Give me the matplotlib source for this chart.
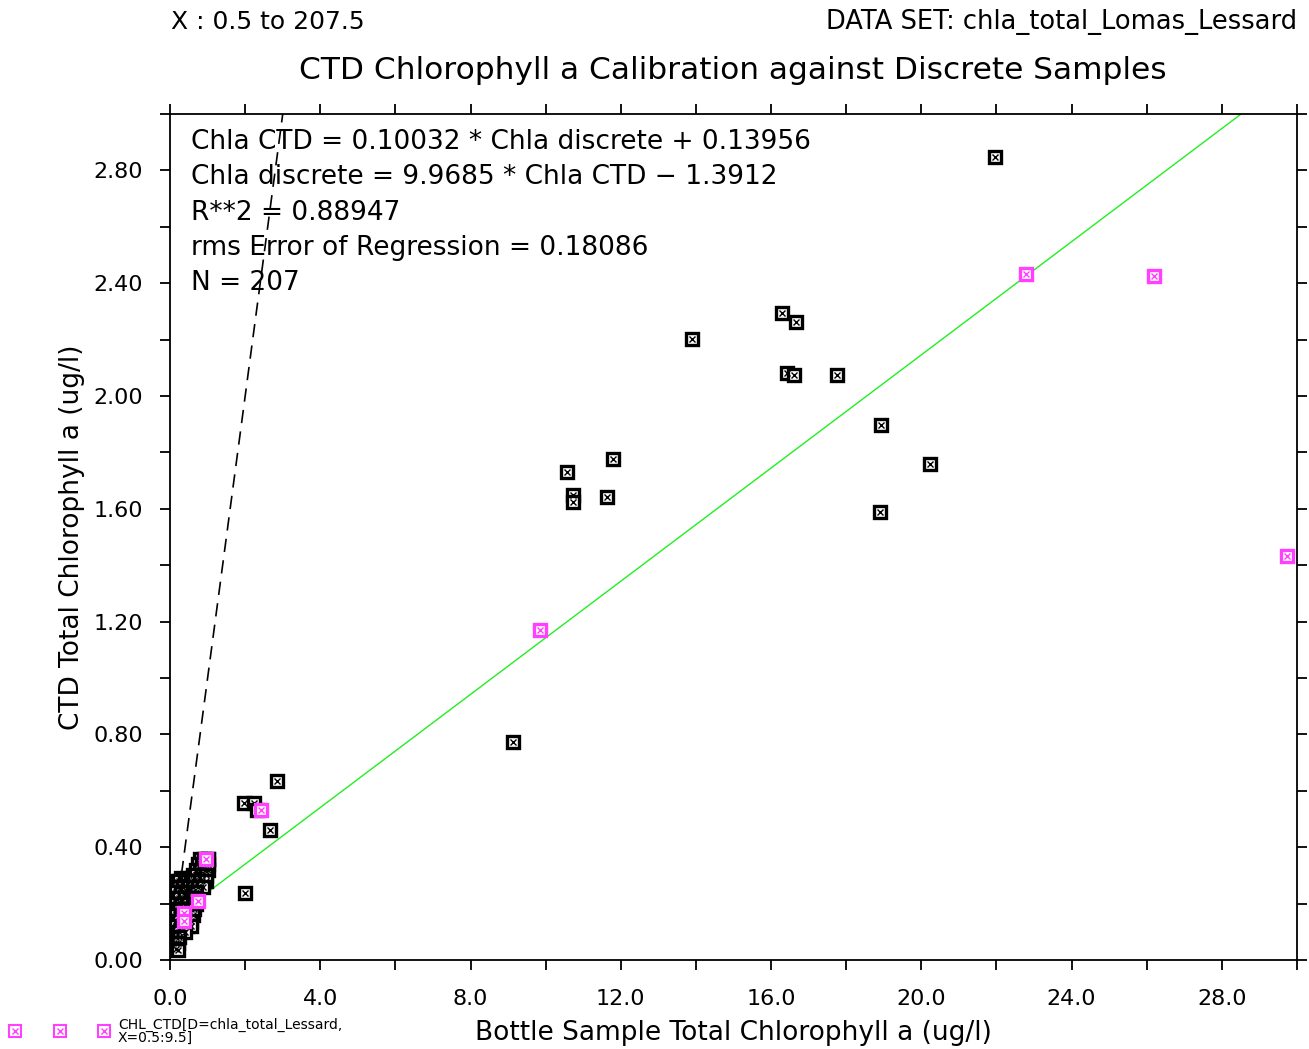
import matplotlib.pyplot as plt
from matplotlib.lines import Line2D

# scattered black samples (bottle, CTD)
black_x = [21.96, 16.29, 16.66, 13.89, 16.42, 16.61, 17.75, 18.92, 20.23, 18.90,
           10.57, 11.79, 10.73, 10.73, 11.63, 9.13, 2.85, 1.97, 2.24, 2.32, 2.66, 2.00]
black_y = [2.846, 2.293, 2.261, 2.201, 2.080, 2.073, 2.073, 1.899, 1.758, 1.588,
           1.729, 1.775, 1.648, 1.623, 1.641, 0.773, 0.634, 0.556, 0.556, 0.532, 0.461, 0.237]

# dense cluster near the origin
cluster_x = [0.80, 0.90, 1.00, 1.02,
             0.75, 0.85, 0.95, 1.00,
             0.70, 0.80, 0.92, 1.00,
             0.30, 0.45, 0.60, 0.70, 0.85, 0.95,
             0.15, 0.25, 0.40, 0.55, 0.65, 0.80, 0.95,
             0.20, 0.35, 0.50, 0.62, 0.75, 0.88,
             0.15, 0.30, 0.45, 0.60, 0.70,
             0.15, 0.25, 0.40, 0.55, 0.65,
             0.15, 0.30, 0.45, 0.60, 0.70,
             0.15, 0.25, 0.40, 0.55, 0.65,
             0.15, 0.30, 0.45, 0.60,
             0.15, 0.25, 0.40, 0.55,
             0.15, 0.30, 0.45, 0.55,
             0.15, 0.25, 0.40,
             0.15, 0.25,
             0.15, 0.22,
             0.15, 0.20]
cluster_y = [0.36, 0.36, 0.36, 0.36,
             0.34, 0.34, 0.34, 0.34,
             0.32, 0.32, 0.32, 0.32,
             0.29, 0.29, 0.30, 0.30, 0.30, 0.30,
             0.28, 0.28, 0.28, 0.28, 0.28, 0.28, 0.28,
             0.26, 0.26, 0.26, 0.26, 0.26, 0.26,
             0.24, 0.24, 0.24, 0.24, 0.24,
             0.22, 0.22, 0.22, 0.22, 0.22,
             0.20, 0.20, 0.20, 0.20, 0.20,
             0.18, 0.18, 0.18, 0.18, 0.18,
             0.16, 0.16, 0.16, 0.16,
             0.14, 0.14, 0.14, 0.14,
             0.12, 0.12, 0.12, 0.12,
             0.10, 0.10, 0.10,
             0.08, 0.08,
             0.06, 0.06,
             0.04, 0.035]

# highlighted subset X=0.5:9.5
mag_x = [22.78, 26.19, 29.73, 9.85, 2.42, 0.96, 0.75, 0.37, 0.37]
mag_y = [2.434, 2.427, 1.432, 1.169, 0.532, 0.358, 0.209, 0.167, 0.138]

slope, icpt = 0.10032, 0.13956
fit_x = [0.0, 28.5]
one_to_one = [0.0, 3.0]

equations = ["Chla CTD = 0.10032 * Chla discrete + 0.13956",
             "Chla discrete = 9.9685 * Chla CTD \u2212 1.3912",
             "R**2 = 0.88947",
             "rms Error of Regression = 0.18086",
             "N = 207"]

xticks = [0, 4, 8, 12, 16, 20, 24, 28]
yticks = [0.0, 0.4, 0.8, 1.2, 1.6, 2.0, 2.4, 2.8]

MAG = '#ff40ff'

fig = plt.figure(figsize=(13.09, 10.49), dpi=100)
ax = fig.add_axes([0.1299, 0.0848, 0.8609, 0.8065])


def boxx(x, y, col, z):
    ax.plot(x, y, ls='none', marker='s', ms=8.5, mfc='white', mec=col, mew=2.4, zorder=z)
    ax.plot(x, y, ls='none', marker='x', ms=5, mec=col, mew=1.0, zorder=z)


ax.plot(one_to_one, one_to_one, color='black', lw=1.2, ls=(0, (8, 5)), zorder=2)
ax.plot(fit_x, [slope * v + icpt for v in fit_x], color='#22ee22', lw=1.0, zorder=2)

boxx(cluster_x, cluster_y, 'black', 3)
boxx(black_x, black_y, 'black', 3)
boxx(mag_x, mag_y, MAG, 4)

ax.set_xlim(0, 30)
ax.set_ylim(0, 3)
ax.set_xticks(xticks)
ax.set_xticklabels(['%.1f' % v for v in xticks])
ax.set_xticks(range(0, 31, 2), minor=True)
ax.set_yticks(yticks)
ax.set_yticklabels(['%.2f' % v for v in yticks])
ax.set_yticks([i * 0.2 for i in range(16)], minor=True)
ax.tick_params(which='both', direction='out', length=7.5, width=1.3, labelsize=16,
               top=True, right=True)
ax.tick_params(axis='x', pad=13)
ax.tick_params(axis='y', pad=12)
for s in ax.spines.values():
    s.set_linewidth(1.3)

ax.set_xlabel('Bottle Sample Total Chlorophyll a (ug/l)', fontsize=19, labelpad=8)
ax.set_ylabel('CTD Total Chlorophyll a (ug/l)', fontsize=19, labelpad=6)

for i, t in enumerate(equations):
    ax.text(0.019, 0.967 - i * 0.0417, t, transform=ax.transAxes, fontsize=19,
            va='center', ha='left')

fig.text(0.131, 0.979, 'X : 0.5 to 207.5', fontsize=18, va='center', ha='left')
fig.text(0.991, 0.979, 'DATA SET: chla_total_Lomas_Lessard', fontsize=18.5, va='center', ha='right')
fig.text(0.56, 0.933, 'CTD Chlorophyll a Calibration against Discrete Samples', fontsize=22.5,
         va='center', ha='center')

# legend row at the bottom
for px in [15, 60, 104]:
    fx = px / 1309.0
    fig.add_artist(Line2D([fx], [0.017], marker='s', ms=8, mfc='white', mec=MAG, mew=1.5,
                          transform=fig.transFigure))
    fig.add_artist(Line2D([fx], [0.017], marker='x', ms=5, mec=MAG, mew=1.0,
                          transform=fig.transFigure))
fig.text(0.090, 0.017, 'CHL_CTD[D=chla_total_Lessard,\nX=0.5:9.5]', fontsize=10,
         va='center', ha='left', linespacing=0.85)

fig.savefig('out.png', dpi=100)
